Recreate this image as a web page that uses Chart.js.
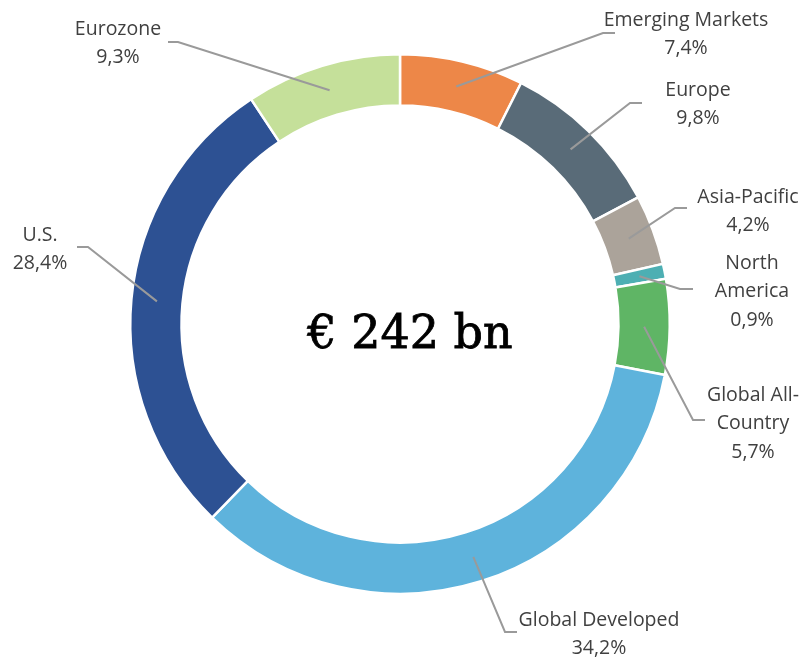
<!DOCTYPE html>
<html>
<head>
<meta charset="utf-8">
<script src="https://cdn.jsdelivr.net/npm/chart.js@4"></script>
<style>
html,body{margin:0;padding:0;background:#fff;}
#wrap{width:806px;height:658px;}
</style>
</head>
<body>
<div id="wrap"><canvas id="c" width="806" height="658"></canvas></div>
<script>
// ---- data ----
const categories = ["Emerging Markets", "Europe", "Asia-Pacific", "North America", "Global All-Country", "Global Developed", "U.S.", "Eurozone"];
const values = [7.4, 9.8, 4.2, 0.9, 5.7, 34.2, 28.4, 9.3];
const centerLabel = "€ 242 bn";

// ---- styles ----
const colors = ["#ED8748", "#596B78", "#ABA39A", "#4DAFB3", "#5FB565", "#5EB3DC", "#2D5193", "#C5E09A"];

// label layout: text lines, text center x, first line y, elbow point, horizontal end x
const labelLayout = [
  {lines: ["Emerging Markets"], x: 686, y: 20, elbow: [603, 33], end: 615},
  {lines: ["Europe"], x: 698, y: 90, elbow: [630, 103], end: 642},
  {lines: ["Asia-Pacific"], x: 748, y: 197, elbow: [675, 208], end: 687},
  {lines: ["North", "America"], x: 752, y: 263, elbow: [680, 289], end: 693},
  {lines: ["Global All-", "Country"], x: 753, y: 395, elbow: [693, 420], end: 705},
  {lines: ["Global Developed"], x: 599, y: 620, elbow: [505, 632], end: 517},
  {lines: ["U.S."], x: 40, y: 235, elbow: [88, 247], end: 77},
  {lines: ["Eurozone"], x: 118, y: 29, elbow: [178, 42], end: 168}
];

const fmt = v => v.toFixed(1).replace('.', ',') + '%';

const labelPlugin = {
  id: 'leaderLabels',
  afterDatasetsDraw(chart) {
    const ctx = chart.ctx;
    const meta = chart.getDatasetMeta(0);
    ctx.save();
    meta.data.forEach((arc, i) => {
      const L = labelLayout[i];
      const p = arc.getCenterPoint();
      ctx.beginPath();
      ctx.moveTo(p.x, p.y);
      ctx.lineTo(L.elbow[0], L.elbow[1]);
      ctx.lineTo(L.end, L.elbow[1]);
      ctx.strokeStyle = '#9A9A9A';
      ctx.lineWidth = 2;
      ctx.stroke();
      ctx.fillStyle = '#404040';
      ctx.font = '19.5px "Open Sans"';
      ctx.textAlign = 'center';
      ctx.textBaseline = 'middle';
      const lines = L.lines.concat([fmt(values[i])]);
      lines.forEach((t, k) => ctx.fillText(t, L.x, L.y + k * 28.5));
    });
    // center text
    ctx.fillStyle = '#000';
    ctx.font = '46px "DejaVu Serif"';
    ctx.textAlign = 'center';
    ctx.textBaseline = 'alphabetic';
    ctx.fillText(centerLabel, 410, 348);
    ctx.lineWidth = 0.8;
    ctx.strokeStyle = '#000';
    ctx.strokeText(centerLabel, 410, 348);
    ctx.restore();
  }
};

new Chart(document.getElementById('c'), {
  type: 'doughnut',
  data: {
    labels: categories,
    datasets: [{
      data: values,
      backgroundColor: colors,
      borderColor: '#ffffff',
      borderWidth: 2.5,
      hoverOffset: 0
    }]
  },
  options: {
    responsive: false,
    animation: false,
    cutout: '81%',
    layout: {padding: {left: 129, right: 135, top: 53, bottom: 63}},
    plugins: {legend: {display: false}, tooltip: {enabled: false}}
  },
  plugins: [labelPlugin]
});
</script>
</body>
</html>
